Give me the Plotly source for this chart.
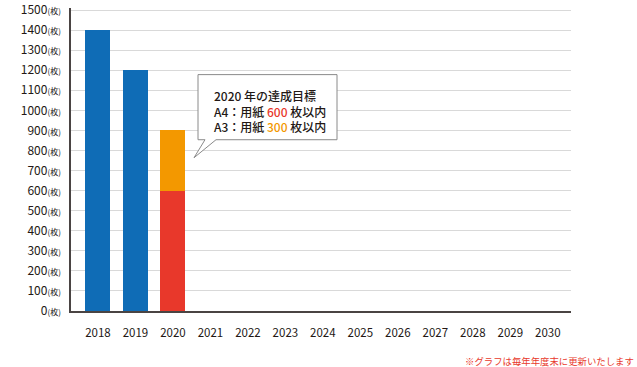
import plotly.graph_objects as go

years = [str(y) for y in range(2018, 2031)]
usage = [1400, 1200, None, None, None, None, None, None, None, None, None, None, None]
a4_target = [None, None, 600, None, None, None, None, None, None, None, None, None, None]
a3_target = [None, None, 300, None, None, None, None, None, None, None, None, None, None]
y_ticks = list(range(0, 1501, 100))
y_ticklabels = [f"{v}<span style='font-size:8px'>(枚)</span>" for v in y_ticks]

W, H = 637, 367
YMAX = 1510
# plot area in page pixels
L, R, B = 71, 571, 311
T = B - 300.5 * YMAX / 1500


def px(x):
    return (x - L) / (R - L)


def py(y):
    return (B - y) / (B - T)


FONT = "Noto Sans CJK JP, Noto Sans, sans-serif"

fig = go.Figure()
fig.add_trace(go.Bar(x=years, y=usage, marker=dict(color="#0f6cb6", line=dict(width=0)), name="usage"))
fig.add_trace(go.Bar(x=years, y=a4_target, marker=dict(color="#e8382b", line=dict(width=0)), name="A4"))
fig.add_trace(go.Bar(x=years, y=a3_target, marker=dict(color="#f39800", line=dict(width=0)), name="A3"))

# callout box
bx0, bx1, by0, by1 = 198, 337, 75, 140
tail = [(205, by1), (194, 158), (216, by1)]
path = (f"M {px(bx0)},{py(by0)} L {px(bx1)},{py(by0)} L {px(bx1)},{py(by1)} "
        f"L {px(tail[2][0])},{py(tail[2][1])} L {px(tail[1][0])},{py(tail[1][1])} "
        f"L {px(tail[0][0])},{py(tail[0][1])} L {px(bx0)},{py(by1)} Z")
fig.add_shape(type="path", xref="paper", yref="paper", path=path,
              fillcolor="white", line=dict(color="#8a8a8a", width=1), layer="above")

fig.add_annotation(
    xref="paper", yref="paper", x=px(212), y=py(85), xanchor="left", yanchor="top",
    align="left", showarrow=False,
    text=("2020 年の達成目標<br>A4：用紙 <span style='color:#e8382b'>600</span> 枚以内"
          "<br>A3：用紙 <span style='color:#f39800'>300</span> 枚以内"),
    font=dict(family=FONT, size=12, color="#231815", weight=500),
)

fig.add_annotation(
    xref="paper", yref="paper", x=px(636), y=py(361), xanchor="right", yanchor="middle",
    showarrow=False, text="※グラフは毎年年度末に更新いたします",
    font=dict(family=FONT, size=9.4, color="#e8382b"),
)

fig.update_layout(
    width=W, height=H,
    margin=dict(l=L, r=W - R, t=T, b=H - B, pad=0),
    paper_bgcolor="white", plot_bgcolor="white",
    barmode="stack", bargap=0.333, showlegend=False,
    font=dict(family=FONT, color="#231815"),
    xaxis=dict(
        type="category", range=[-0.72, 12.62], showgrid=False, automargin=False,
        showline=True, linecolor="#4a4443", linewidth=1.5,
        ticks="", tickfont=dict(size=11.5, color="#231815"), ticklabelstandoff=10,
        fixedrange=True,
    ),
    yaxis=dict(
        range=[0, YMAX], tickvals=y_ticks, ticktext=y_ticklabels, automargin=False,
        showgrid=True, gridcolor="#d9d9d9", gridwidth=1, ticklabeloverflow="allow",
        showline=True, linecolor="#4a4443", linewidth=1.5,
        ticks="", tickfont=dict(size=12, color="#231815"), ticklabelstandoff=6,
        zeroline=False, fixedrange=True,
    ),
)

fig.write_html("out.html", post_script="document.body.style.margin='0';",
               config={"displayModeBar": False})
